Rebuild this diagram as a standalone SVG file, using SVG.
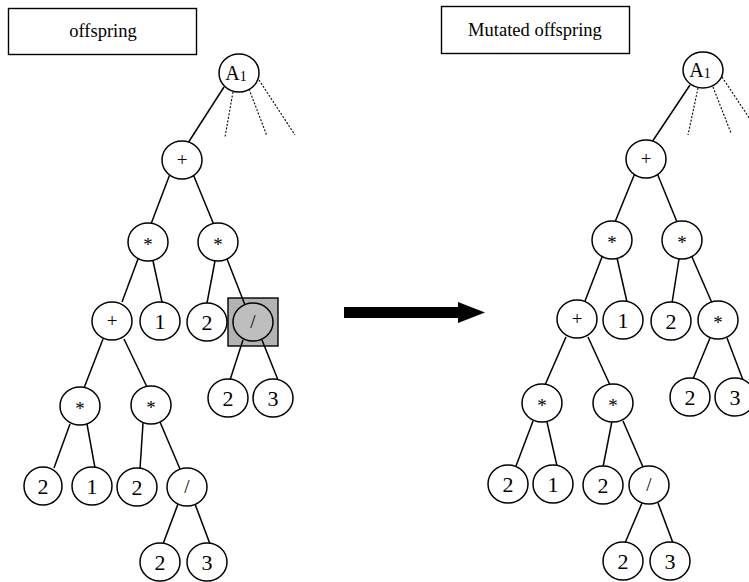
<svg xmlns="http://www.w3.org/2000/svg" width="749" height="582" viewBox="0 0 749 582">
  <style>
    .node ellipse { fill: #fff; stroke: #000; stroke-width: 1.5; }
    .node text { font-family: "Liberation Serif", "Times New Roman", serif; fill: #000; text-anchor: middle; }
    .num { font-size: 22px; }
    .op { font-size: 19px; }
    .edge { stroke: #000; stroke-width: 1.5; fill: none; }
    .dot { stroke: #000; stroke-width: 1.1; stroke-dasharray: 2 1.6; fill: none; }
    .title rect { fill: #fff; stroke: #000; stroke-width: 1.4; }
    .title text { font-family: "Liberation Serif", "Times New Roman", serif; font-size: 18.5px; text-anchor: middle; fill: #000; }
    .hl ellipse { fill: #bebebe; }
  </style>
  <rect width="749" height="582" fill="#fff"/>

  <!-- headings -->
  <g id="label-offspring" class="title">
    <rect x="8.5" y="8.5" width="188" height="46"/>
    <text x="103" y="37">offspring</text>
  </g>
  <g id="label-mutated" class="title">
    <rect x="441.5" y="6.5" width="188" height="47"/>
    <text x="535" y="36">Mutated offspring</text>
  </g>

  <!-- mutation point marker -->
  <rect id="mutation-mark" x="228" y="298" width="50" height="48" fill="#b3b3b3" stroke="#000" stroke-width="1.4"/>

  <!-- transformation arrow -->
  <path id="arrow" d="M344,307 H458 V302 L485,312.5 L458,323 V318 H344 Z" fill="#000"/>

  <!-- connectors -->
  <g id="connectors">
    <!-- left tree -->
    <line class="edge" x1="224" y1="87" x2="188" y2="143"/>
    <line class="dot" x1="233" y1="92" x2="225" y2="137"/>
    <line class="dot" x1="249" y1="89" x2="267" y2="136"/>
    <line class="dot" x1="259" y1="80" x2="295" y2="135"/>
    <line class="edge" x1="170" y1="174" x2="151" y2="224"/>
    <line class="edge" x1="193" y1="174" x2="214" y2="225"/>
    <line class="edge" x1="138" y1="259" x2="122" y2="302"/>
    <line class="edge" x1="153" y1="261" x2="162" y2="302"/>
    <line class="edge" x1="215" y1="261" x2="207" y2="303"/>
    <line class="edge" x1="227" y1="259" x2="245" y2="305"/>
    <line class="edge" x1="103" y1="339" x2="84" y2="388"/>
    <line class="edge" x1="124" y1="339" x2="147" y2="387"/>
    <line class="edge" x1="243" y1="340" x2="230" y2="380"/>
    <line class="edge" x1="262" y1="340" x2="278" y2="380"/>
    <line class="edge" x1="70" y1="424" x2="54" y2="468"/>
    <line class="edge" x1="87" y1="424" x2="95" y2="468"/>
    <line class="edge" x1="143" y1="423" x2="140" y2="469"/>
    <line class="edge" x1="160" y1="422" x2="180" y2="469"/>
    <line class="edge" x1="178" y1="504" x2="163" y2="544"/>
    <line class="edge" x1="195" y1="504" x2="210" y2="544"/>
    <!-- right tree -->
    <line class="edge" x1="690" y1="85" x2="652" y2="142"/>
    <line class="dot" x1="698" y1="88" x2="688" y2="135"/>
    <line class="dot" x1="713" y1="87" x2="731" y2="133"/>
    <line class="dot" x1="722" y1="77" x2="752" y2="122"/>
    <line class="edge" x1="635" y1="173" x2="615" y2="222"/>
    <line class="edge" x1="657" y1="173" x2="677" y2="222"/>
    <line class="edge" x1="602" y1="257" x2="585" y2="301"/>
    <line class="edge" x1="617" y1="258" x2="627" y2="302"/>
    <line class="edge" x1="679" y1="259" x2="672" y2="303"/>
    <line class="edge" x1="692" y1="257" x2="712" y2="303"/>
    <line class="edge" x1="710" y1="338" x2="693" y2="379"/>
    <line class="edge" x1="727" y1="338" x2="743" y2="380"/>
    <line class="edge" x1="566" y1="337" x2="545" y2="385"/>
    <line class="edge" x1="588" y1="337" x2="610" y2="385"/>
    <line class="edge" x1="533" y1="421" x2="516" y2="466"/>
    <line class="edge" x1="547" y1="422" x2="557" y2="466"/>
    <line class="edge" x1="612" y1="421" x2="603" y2="467"/>
    <line class="edge" x1="623" y1="421" x2="643" y2="467"/>
    <line class="edge" x1="642" y1="503" x2="625" y2="543"/>
    <line class="edge" x1="658" y1="503" x2="673" y2="543"/>
  </g>

  <!-- left tree: offspring -->
  <g id="L-A1" class="node"><ellipse cx="239" cy="73" rx="20" ry="19"/><text x="236" y="80" style="font-size:20px">A<tspan font-size="14" dy="1">1</tspan></text></g>
  <g id="L-plus" class="node"><ellipse cx="182" cy="160" rx="20" ry="19"/><text x="182" y="166" class="op">+</text></g>
  <g id="L-mul-a" class="node"><ellipse cx="148" cy="242" rx="20" ry="19"/><text x="148" y="251" class="op">*</text></g>
  <g id="L-mul-b" class="node"><ellipse cx="218" cy="242" rx="20" ry="19"/><text x="218" y="251" class="op">*</text></g>
  <g id="L-plus-b" class="node"><ellipse cx="112" cy="321" rx="20" ry="19"/><text x="112" y="327" class="op">+</text></g>
  <g id="L-one" class="node"><ellipse cx="160" cy="321" rx="20" ry="19"/><text x="160" y="328.5" class="num">1</text></g>
  <g id="L-two" class="node"><ellipse cx="207" cy="322" rx="20" ry="19"/><text x="207" y="329.5" class="num">2</text></g>
  <g id="L-div" class="node hl"><ellipse cx="253" cy="322" rx="20" ry="19"/><text x="253" y="328" class="op">/</text></g>
  <g id="L-two-b" class="node"><ellipse cx="228" cy="398" rx="20" ry="19"/><text x="228" y="405.5" class="num">2</text></g>
  <g id="L-three-b" class="node"><ellipse cx="273" cy="398" rx="20" ry="19"/><text x="273" y="405.5" class="num">3</text></g>
  <g id="L-mul-c" class="node"><ellipse cx="80" cy="406" rx="20" ry="19"/><text x="80" y="415" class="op">*</text></g>
  <g id="L-mul-d" class="node"><ellipse cx="151" cy="405" rx="20" ry="19"/><text x="151" y="414" class="op">*</text></g>
  <g id="L-two-c" class="node"><ellipse cx="43" cy="486" rx="19" ry="19"/><text x="43" y="493.5" class="num">2</text></g>
  <g id="L-one-c" class="node"><ellipse cx="92" cy="486" rx="20" ry="19"/><text x="92" y="493.5" class="num">1</text></g>
  <g id="L-two-d" class="node"><ellipse cx="137" cy="487" rx="20" ry="19"/><text x="137" y="494.5" class="num">2</text></g>
  <g id="L-div-b" class="node"><ellipse cx="187" cy="487" rx="20" ry="19"/><text x="187" y="493" class="op">/</text></g>
  <g id="L-two-e" class="node"><ellipse cx="160" cy="562" rx="20" ry="19"/><text x="160" y="569.5" class="num">2</text></g>
  <g id="L-three-e" class="node"><ellipse cx="207" cy="562" rx="20" ry="19"/><text x="207" y="569.5" class="num">3</text></g>

  <!-- right tree: mutated offspring -->
  <g id="R-A1" class="node"><ellipse cx="703" cy="70" rx="20" ry="18"/><text x="700" y="77" style="font-size:20px">A<tspan font-size="14" dy="1">1</tspan></text></g>
  <g id="R-plus" class="node"><ellipse cx="646" cy="159" rx="20" ry="19"/><text x="646" y="165" class="op">+</text></g>
  <g id="R-mul-a" class="node"><ellipse cx="612" cy="240" rx="20" ry="19"/><text x="612" y="249" class="op">*</text></g>
  <g id="R-mul-b" class="node"><ellipse cx="682" cy="240" rx="20" ry="19"/><text x="682" y="249" class="op">*</text></g>
  <g id="R-plus-b" class="node"><ellipse cx="577" cy="319" rx="20" ry="19"/><text x="577" y="325" class="op">+</text></g>
  <g id="R-one" class="node"><ellipse cx="623" cy="320" rx="20" ry="19"/><text x="623" y="327.5" class="num">1</text></g>
  <g id="R-two" class="node"><ellipse cx="671" cy="321" rx="20" ry="19"/><text x="671" y="328.5" class="num">2</text></g>
  <g id="R-mul-new" class="node"><ellipse cx="718" cy="320" rx="20" ry="19"/><text x="718" y="329" class="op">*</text></g>
  <g id="R-two-b" class="node"><ellipse cx="690" cy="397" rx="20" ry="19"/><text x="690" y="404.5" class="num">2</text></g>
  <g id="R-three-b" class="node"><ellipse cx="735" cy="397" rx="20" ry="19"/><text x="735" y="404.5" class="num">3</text></g>
  <g id="R-mul-c" class="node"><ellipse cx="542" cy="403" rx="20" ry="19"/><text x="542" y="412" class="op">*</text></g>
  <g id="R-mul-d" class="node"><ellipse cx="613" cy="403" rx="20" ry="19"/><text x="613" y="412" class="op">*</text></g>
  <g id="R-two-c" class="node"><ellipse cx="508" cy="484" rx="20" ry="19"/><text x="508" y="491.5" class="num">2</text></g>
  <g id="R-one-c" class="node"><ellipse cx="553" cy="484" rx="20" ry="19"/><text x="553" y="491.5" class="num">1</text></g>
  <g id="R-two-d" class="node"><ellipse cx="603" cy="485" rx="20" ry="19"/><text x="603" y="492.5" class="num">2</text></g>
  <g id="R-div-b" class="node"><ellipse cx="649" cy="485" rx="20" ry="19"/><text x="649" y="491" class="op">/</text></g>
  <g id="R-two-e" class="node"><ellipse cx="623" cy="561" rx="20" ry="19"/><text x="623" y="568.5" class="num">2</text></g>
  <g id="R-three-e" class="node"><ellipse cx="670" cy="561" rx="20" ry="19"/><text x="670" y="568.5" class="num">3</text></g>
</svg>
